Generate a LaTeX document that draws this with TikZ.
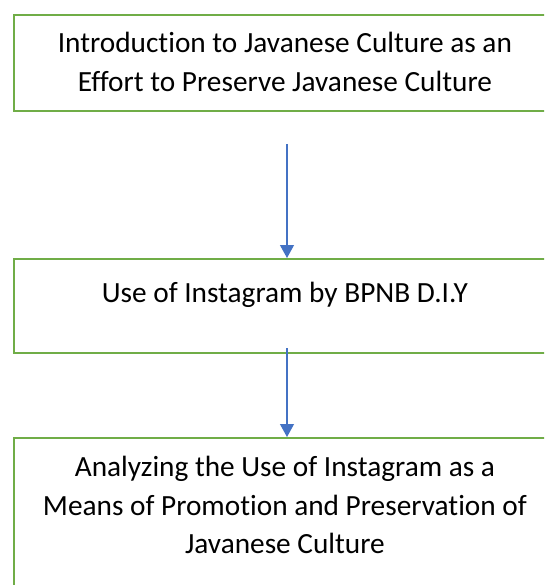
\documentclass[tikz,border=0pt]{standalone}
\usepackage{fontspec}
\setmainfont{Carlito}[Ligatures=NoCommon]
\definecolor{boxGreen}{RGB}{112,173,71}
\definecolor{flowBlue}{RGB}{68,114,196}
\usepackage{tikz}
\usetikzlibrary{arrows.meta,positioning,calc}

\begin{document}
\begin{tikzpicture}[
        x=1pt, y=-1pt,
        stage/.style={draw=boxGreen, line width=1.8pt, anchor=north west,
          text width=520pt, align=flush center, inner xsep=11pt, inner ysep=0pt,
          font=\fontsize{29.3}{38.5}\selectfont},
        flow/.style={-{Triangle[width=14pt,length=13pt]}, line width=1.2pt, flowBlue}
      ]
        \useasboundingbox (0,0) rectangle (544,585);
        \clip (0,0) rectangle (544,585);

        \node[stage, text height=38pt, text depth=58pt] (intro) at (13,14)
          {Introduction to Javanese Culture as an\\Effort to Preserve Javanese Culture};
        \node[stage, text height=44pt, text depth=50pt] (usage) at (13,258)
          {Use of Instagram by BPNB D.I.Y};
        \node[stage, text height=39pt, text depth=200pt] (analysis) at (13,437)
          {Analyzing the Use of Instagram as a\\Means of Promotion and Preservation of\\Javanese Culture};

        % Flow arrows
        \coordinate (f1) at (287,144);
        \coordinate (f2) at (287,348);
        \draw[flow] (f1) -- (f1 |- usage.north);
        \draw[flow] (f2) -- (f2 |- analysis.north);
      \end{tikzpicture}
\end{document}
